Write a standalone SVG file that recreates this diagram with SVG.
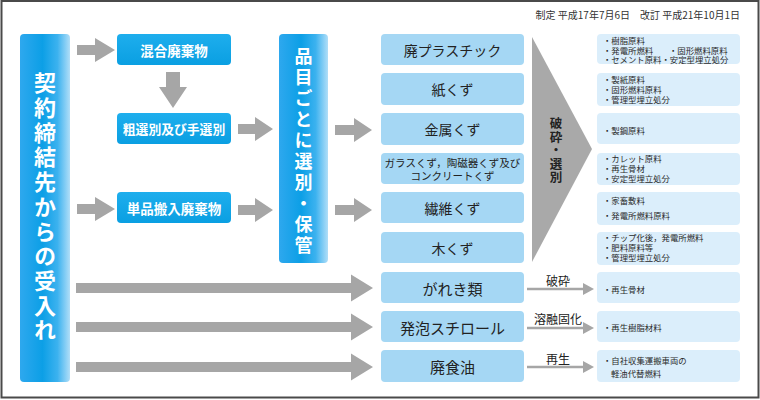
<svg xmlns="http://www.w3.org/2000/svg" width="760" height="400" viewBox="0 0 760 400">
<defs>
<linearGradient id="barGrad" x1="0" y1="0" x2="1" y2="0">
<stop offset="0" stop-color="#2ea8ee"/>
<stop offset="0.45" stop-color="#0c9fe6"/>
<stop offset="0.75" stop-color="#3cb2ef"/>
<stop offset="1" stop-color="#b0def8"/>
</linearGradient>
<linearGradient id="boxGrad" x1="0" y1="0" x2="0" y2="1">
<stop offset="0" stop-color="#1eaeed"/>
<stop offset="1" stop-color="#0a9fe2"/>
</linearGradient>
<style>
text{font-family:"Noto Sans CJK JP","Noto Sans",sans-serif}
.bar{fill:url(#barGrad)}
.blue{fill:url(#boxGrad)}
.lb{fill:#a5d7f4}
.info{fill:#dbeefb}
.wt{fill:#fff;font-weight:bold;text-anchor:middle;dominant-baseline:central}
.vt{fill:#fff;font-weight:bold;writing-mode:vertical-rl;text-orientation:upright}
.bt{fill:#222;text-anchor:middle;dominant-baseline:central}
.it{fill:#2a2a2a;font-size:8.4px;dominant-baseline:central}
.arr{fill:#a6a6a6}
.lbl{fill:#222;text-anchor:middle;dominant-baseline:central}
</style>
</defs>
<rect x="0" y="0" width="760" height="400" fill="#fff"/>
<rect x="1.5" y="1" width="757" height="396.5" fill="none" stroke="#4a4a4a" stroke-width="2"/>
<text x="740" y="14" font-size="10" fill="#333" text-anchor="end" dominant-baseline="central">制定 平成17年7月6日　改訂 平成21年10月1日</text>

<g id="connectors">
<polygon class="arr" points="77,45 95,45 95,38 115,50 95,62 95,55 77,55"/>
<polygon class="arr" points="77,204 95,204 95,197 115,209 95,221 95,214 77,214"/>
<polygon class="arr" points="166,72 180,72 180,87 187,87 173,108 159,87 166,87"/>
<polygon class="arr" points="238,124 255,124 255,117 273,129 255,141 255,134 238,134"/>
<polygon class="arr" points="238,205 255,205 255,198 273,210 255,222 255,215 238,215"/>
<polygon class="arr" points="335,125 354,125 354,118 372,130 354,142 354,135 335,135"/>
<polygon class="arr" points="335,205 354,205 354,198 372,210 354,222 354,215 335,215"/>
<polygon class="arr" points="76,283 351,283 351,274.5 373,288 351,301.5 351,293 76,293"/>
<polygon class="arr" points="76,322 351,322 351,313.5 373,327 351,340.5 351,332 76,332"/>
<polygon class="arr" points="76,362 351,362 351,353.5 373,367 351,380.5 351,372 76,372"/>
<g id="chevron">
<polygon points="532,37 592,149 532,262" fill="#a9a9a9"/>
<text x="556" y="117" font-size="12.5" font-weight="bold" fill="#222" style="writing-mode:vertical-rl;text-orientation:upright" letter-spacing="1">破砕・選別</text>
</g>
<line x1="527" y1="289" x2="585" y2="289" stroke="#a6a6a6" stroke-width="2.5"/>
<polygon class="arr" points="583,283 594,289 583,295"/>
<text class="lbl" x="558" y="280" font-size="12">破砕</text>
<line x1="527" y1="328" x2="585" y2="328" stroke="#a6a6a6" stroke-width="2.5"/>
<polygon class="arr" points="583,322 594,328 583,334"/>
<text class="lbl" x="558" y="318.5" font-size="12">溶融固化</text>
<line x1="527" y1="367" x2="585" y2="367" stroke="#a6a6a6" stroke-width="2.5"/>
<polygon class="arr" points="583,361 594,367 583,373"/>
<text class="lbl" x="558" y="358" font-size="12">再生</text>
</g>

<g id="n-keiyaku">
<rect class="bar" x="20" y="34" width="50" height="348" rx="4"/>
<text class="vt" x="45" y="72" font-size="22" letter-spacing="2.7">契約締結先からの受入れ</text>
</g>
<g id="n-kongo">
<rect class="blue" x="117" y="34" width="114" height="31" rx="4"/>
<text class="wt" x="174" y="49.5" font-size="13.5">混合廃棄物</text>
</g>
<g id="n-sosenbetsu">
<rect class="blue" x="117" y="113" width="114" height="31" rx="4"/>
<text class="wt" x="174" y="128.5" font-size="12.8">粗選別及び手選別</text>
</g>
<g id="n-tanpin">
<rect class="blue" x="117" y="192" width="114" height="31" rx="4"/>
<text class="wt" x="174" y="207.5" font-size="13.5">単品搬入廃棄物</text>
</g>
<g id="n-hinmoku">
<rect class="bar" x="279" y="34" width="49" height="229" rx="4"/>
<text class="vt" x="303.5" y="47.5" font-size="18" letter-spacing="3">品目ごとに選別・保管</text>
</g>

<g id="n-plastic"><rect class="lb" x="381" y="34" width="143" height="31" rx="4"/><text class="bt" x="452.5" y="50" font-size="14">廃プラスチック</text></g>
<g id="n-kami"><rect class="lb" x="381" y="73" width="143" height="32" rx="4"/><text class="bt" x="452.5" y="89" font-size="14">紙くず</text></g>
<g id="n-kinzoku"><rect class="lb" x="381" y="113" width="143" height="32" rx="4"/><text class="bt" x="452.5" y="129" font-size="14">金属くず</text></g>
<g id="n-glass"><rect class="lb" x="381" y="153" width="143" height="31" rx="4"/><text class="bt" font-size="10.5"><tspan x="452.5" y="162">ガラスくず，陶磁器くず及び</tspan><tspan x="452.5" y="174.5">コンクリートくず</tspan></text></g>
<g id="n-seni"><rect class="lb" x="381" y="192" width="143" height="31" rx="4"/><text class="bt" x="452.5" y="208" font-size="14">繊維くず</text></g>
<g id="n-ki"><rect class="lb" x="381" y="232" width="143" height="31" rx="4"/><text class="bt" x="452.5" y="248" font-size="14">木くず</text></g>
<g id="n-gareki"><rect class="lb" x="381" y="272" width="143" height="31" rx="4"/><text class="bt" x="452.5" y="288" font-size="15">がれき類</text></g>
<g id="n-happo"><rect class="lb" x="381" y="311" width="143" height="31" rx="4"/><text class="bt" x="452.5" y="327" font-size="15">発泡スチロール</text></g>
<g id="n-haishokuyu"><rect class="lb" x="381" y="350" width="143" height="32" rx="4"/><text class="bt" x="452.5" y="366" font-size="15">廃食油</text></g>

<g id="r-plastic"><rect class="info" x="597" y="34" width="143" height="30" rx="4"/><text class="it"><tspan x="603" y="40.2">・樹脂原料</tspan><tspan x="603" y="49.8">・発電所燃料</tspan><tspan x="669" y="49.8">・固形燃料原料</tspan><tspan x="603" y="59.4">・セメント原料・安定型埋立処分</tspan></text></g>
<g id="r-kami"><rect class="info" x="597" y="73" width="143" height="33" rx="4"/><text class="it"><tspan x="603" y="78.5">・製紙原料</tspan><tspan x="603" y="88.8">・固形燃料原料</tspan><tspan x="603" y="99.1">・管理型埋立処分</tspan></text></g>
<g id="r-kinzoku"><rect class="info" x="597" y="113" width="143" height="31" rx="4"/><text class="it"><tspan x="603" y="130">・製鋼原料</tspan></text></g>
<g id="r-glass"><rect class="info" x="597" y="153" width="143" height="32" rx="4"/><text class="it"><tspan x="603" y="157.5">・カレット原料</tspan><tspan x="603" y="167.8">・再生骨材</tspan><tspan x="603" y="178.1">・安定型埋立処分</tspan></text></g>
<g id="r-seni"><rect class="info" x="597" y="192" width="143" height="33" rx="4"/><text class="it"><tspan x="603" y="200">・家畜敷料</tspan><tspan x="603" y="215">・発電所燃料原料</tspan></text></g>
<g id="r-ki"><rect class="info" x="597" y="232" width="143" height="33" rx="4"/><text class="it"><tspan x="603" y="237">・チップ化後，発電所燃料</tspan><tspan x="603" y="247.2">・肥料原料等</tspan><tspan x="603" y="257.4">・管理型埋立処分</tspan></text></g>
<g id="r-gareki"><rect class="info" x="597" y="272" width="143" height="31" rx="4"/><text class="it"><tspan x="603" y="289">・再生骨材</tspan></text></g>
<g id="r-happo"><rect class="info" x="597" y="311" width="143" height="31" rx="4"/><text class="it"><tspan x="603" y="327">・再生樹脂材料</tspan></text></g>
<g id="r-haishokuyu"><rect class="info" x="597" y="350" width="143" height="32" rx="4"/><text class="it"><tspan x="603" y="360">・自社収集運搬車両の</tspan><tspan x="611" y="373">軽油代替燃料</tspan></text></g>
</svg>
